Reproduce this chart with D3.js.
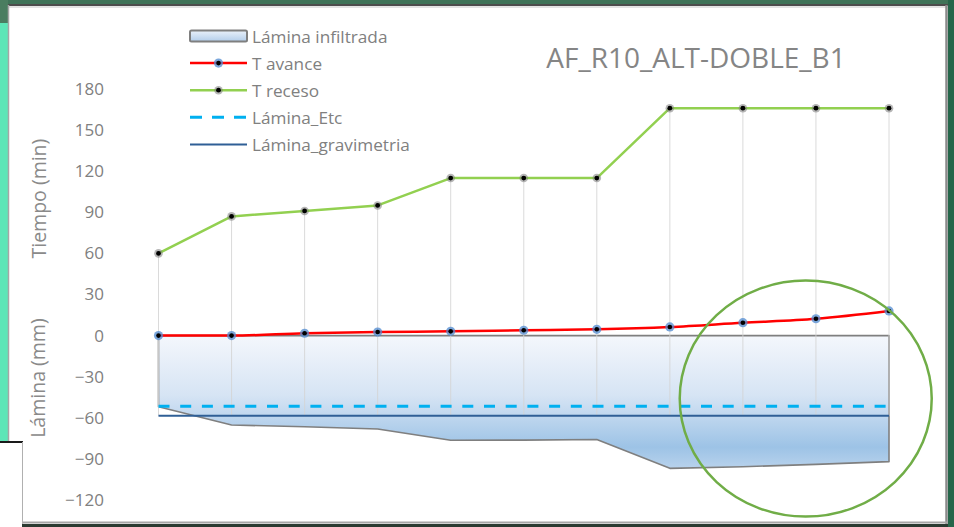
<!DOCTYPE html>
<html>
<head>
<meta charset="utf-8">
<script src="https://cdn.jsdelivr.net/npm/d3@7"></script>
<style>
  html, body { margin: 0; padding: 0; background: #ffffff; }
  svg { display: block; }
  text { font-family: "Open Sans", "Noto Sans", sans-serif; }
</style>
</head>
<body>
<svg id="chart" width="954" height="527"></svg>
<script>
// Estaciones a lo largo del surco (m)
const estaciones = [0, 10, 20, 30, 40, 50, 60, 70, 80, 90, 100];
// Tiempo de avance (min)
const tAvance = [0, 0, 1.7, 2.6, 3.1, 3.9, 4.6, 6.3, 9.4, 12.3, 18];
// Tiempo de receso (min)
const tReceso = [60, 87, 91, 95, 115, 115, 115, 166, 166, 166, 166];
// Lámina infiltrada (mm, hacia abajo)
const laminaInfiltrada = [-52, -65.3, -66.5, -68.2, -76.4, -76.3, -75.8, -96.9, -95.7, -94, -92];
// Láminas de referencia (mm)
const laminaEtc = -51.5;
const laminaGravimetria = -58.5;
// Marcas del eje vertical
const yTicks = [-120, -90, -60, -30, 0, 30, 60, 90, 120, 150, 180];
// Leyenda
const legendLabels = ["Lámina infiltrada", "T avance", "T receso", "Lámina_Etc", "Lámina_gravimetria"];
const chartTitle = "AF_R10_ALT-DOBLE_B1";

const svg = d3.select("#chart");

// ---- window frame around the chart ----
svg.append("rect").attr("x", 0).attr("y", 0).attr("width", 954).attr("height", 527).attr("fill", "#ffffff");
svg.append("rect").attr("x", 0).attr("y", 0).attr("width", 954).attr("height", 4).attr("fill", "#3f7358");
svg.append("rect").attr("x", 0).attr("y", 0).attr("width", 8).attr("height", 23).attr("fill", "#4a7d60");
svg.append("rect").attr("x", 0).attr("y", 23).attr("width", 8).attr("height", 419).attr("fill", "#5de6b7");
svg.append("rect").attr("x", 948).attr("y", 0).attr("width", 6).attr("height", 527).attr("fill", "#26664a");
svg.append("rect").attr("x", 22).attr("y", 524).attr("width", 926).attr("height", 3).attr("fill", "#2a3a31");
// chart border
svg.append("line").attr("x1", 8).attr("x2", 948).attr("y1", 5).attr("y2", 5).attr("stroke", "#4d4d4d").attr("stroke-width", 2);
svg.append("line").attr("x1", 8).attr("x2", 946).attr("y1", 7).attr("y2", 7).attr("stroke", "#c8c8c8").attr("stroke-width", 1);
svg.append("line").attr("x1", 8.5).attr("x2", 8.5).attr("y1", 5).attr("y2", 442).attr("stroke", "#a6a6a6").attr("stroke-width", 1.5);
svg.append("line").attr("x1", 946.5).attr("x2", 946.5).attr("y1", 5).attr("y2", 524).attr("stroke", "#8a8a8a").attr("stroke-width", 2.5);
svg.append("line").attr("x1", 22).attr("x2", 947).attr("y1", 522.5).attr("y2", 522.5).attr("stroke", "#a6a6a6").attr("stroke-width", 2);
svg.append("line").attr("x1", 0).attr("x2", 23).attr("y1", 442).attr("y2", 442).attr("stroke", "#1a1a1a").attr("stroke-width", 2);
svg.append("line").attr("x1", 22.5).attr("x2", 22.5).attr("y1", 442).attr("y2", 524).attr("stroke", "#b0b0b0").attr("stroke-width", 1);

// ---- scales ----
const x = d3.scalePoint().domain(estaciones).range([158.5, 889]);
const y = d3.scaleLinear().domain([-120, 180]).range([500, 89]);

// ---- gradient for the infiltrated depth area ----
const defs = svg.append("defs");
const grad = defs.append("linearGradient").attr("id", "gradLamina")
  .attr("x1", 0).attr("x2", 0).attr("y1", 0).attr("y2", 1);
grad.append("stop").attr("offset", "0%").attr("stop-color", "#f4f7fc");
grad.append("stop").attr("offset", "45%").attr("stop-color", "#d6e4f4");
grad.append("stop").attr("offset", "84%").attr("stop-color", "#9dc3e6");
grad.append("stop").attr("offset", "100%").attr("stop-color", "#b8d2ec");

const gradLeg = defs.append("linearGradient").attr("id", "gradLeg")
  .attr("x1", 0).attr("x2", 0).attr("y1", 0).attr("y2", 1);
gradLeg.append("stop").attr("offset", "0%").attr("stop-color", "#eaf1fa");
gradLeg.append("stop").attr("offset", "100%").attr("stop-color", "#b2cdea");

// ---- area: Lámina infiltrada ----
const areaGen = d3.area()
  .x((d, i) => x(estaciones[i]))
  .y0(y(0))
  .y1(d => y(d));
svg.append("path")
  .datum(laminaInfiltrada)
  .attr("d", areaGen)
  .attr("fill", "url(#gradLamina)")
  .attr("stroke", "#7f7f7f")
  .attr("stroke-width", 1.6)
  .attr("stroke-linejoin", "round");

// ---- drop lines from T receso down to the lowest reference line ----
svg.append("g").selectAll("line")
  .data(estaciones)
  .join("line")
  .attr("x1", d => x(d)).attr("x2", d => x(d))
  .attr("y1", (d, i) => y(tReceso[i]))
  .attr("y2", y(laminaGravimetria))
  .attr("stroke", "#d4d4d4")
  .attr("stroke-opacity", 0.85)
  .attr("stroke-width", 1);

// ---- reference depths ----
svg.append("line")
  .attr("x1", x(estaciones[0])).attr("x2", x(estaciones[estaciones.length - 1]))
  .attr("y1", y(laminaGravimetria)).attr("y2", y(laminaGravimetria))
  .attr("stroke", "#2f5f96").attr("stroke-width", 2);
svg.append("line")
  .attr("x1", x(estaciones[0])).attr("x2", x(estaciones[estaciones.length - 1]))
  .attr("y1", y(laminaEtc)).attr("y2", y(laminaEtc))
  .attr("stroke", "#00b0f0").attr("stroke-width", 3)
  .attr("stroke-dasharray", "11,10.7");

// ---- y axis ----
const yAxis = d3.axisLeft(y).tickValues(yTicks).tickSize(0).tickPadding(0);
const gy = svg.append("g").attr("transform", "translate(104,0)").call(yAxis);
gy.select(".domain").remove();
gy.selectAll("text")
  .attr("fill", "#808080")
  .style("font-size", "17px")
  .style("font-family", "'Open Sans', sans-serif");

// ---- lines ----
const lineGen = d3.line().x((d, i) => x(estaciones[i])).y(d => y(d));
svg.append("path")
  .datum(tReceso)
  .attr("d", lineGen)
  .attr("fill", "none")
  .attr("stroke", "#92d050")
  .attr("stroke-width", 2.5)
  .attr("stroke-linejoin", "round");

const smoothGen = d3.line().x((d, i) => x(estaciones[i])).y(d => y(d)).curve(d3.curveMonotoneX);
svg.append("path")
  .datum(tAvance)
  .attr("d", smoothGen)
  .attr("fill", "none")
  .attr("stroke", "#ff0000")
  .attr("stroke-width", 2.5);

// ---- markers ----
function avanceMarker(g, cx, cy) {
  g.append("circle").attr("cx", cx).attr("cy", cy).attr("r", 4.6).attr("fill", "#4f8ad0").attr("fill-opacity", 0.75);
  g.append("circle").attr("cx", cx).attr("cy", cy).attr("r", 2.3).attr("fill", "#000000");
}
function recesoMarker(g, cx, cy) {
  g.append("circle").attr("cx", cx).attr("cy", cy).attr("r", 4.3).attr("fill", "#7a7a7a").attr("fill-opacity", 0.55);
  g.append("circle").attr("cx", cx).attr("cy", cy).attr("r", 2.4).attr("fill", "#000000");
}
const gMarks = svg.append("g");
tReceso.forEach((v, i) => recesoMarker(gMarks, x(estaciones[i]), y(v)));
tAvance.forEach((v, i) => avanceMarker(gMarks, x(estaciones[i]), y(v)));

// ---- axis titles ----
svg.append("text")
  .attr("transform", `translate(38,${y(100)}) rotate(-90)`)
  .attr("text-anchor", "middle").attr("dominant-baseline", "central")
  .attr("fill", "#8a8a8a").style("font-size", "19.5px")
  .text("Tiempo (min)");
svg.append("text")
  .attr("transform", `translate(37,${y(-31)}) rotate(-90)`)
  .attr("text-anchor", "middle").attr("dominant-baseline", "central")
  .attr("fill", "#8a8a8a").style("font-size", "19.5px")
  .text("Lámina (mm)");

// ---- title ----
svg.append("text")
  .attr("x", 696).attr("y", 57)
  .attr("text-anchor", "middle").attr("dominant-baseline", "central")
  .attr("fill", "#858585").style("font-size", "28px")
  .text(chartTitle);

// ---- legend ----
const leg = svg.append("g");
const legRow = i => 36 + i * 27.1;
const lx0 = 190, lx1 = 247, lxm = (lx0 + lx1) / 2;
leg.append("rect").attr("x", lx0).attr("y", legRow(0) - 5.5).attr("width", lx1 - lx0).attr("height", 11)
  .attr("rx", 1.5).attr("fill", "url(#gradLeg)").attr("stroke", "#7f7f7f").attr("stroke-width", 2);
leg.append("line").attr("x1", lx0).attr("x2", lx1).attr("y1", legRow(1)).attr("y2", legRow(1))
  .attr("stroke", "#ff0000").attr("stroke-width", 2.5);
avanceMarker(leg, lxm, legRow(1));
leg.append("line").attr("x1", lx0).attr("x2", lx1).attr("y1", legRow(2)).attr("y2", legRow(2))
  .attr("stroke", "#92d050").attr("stroke-width", 2.5);
recesoMarker(leg, lxm, legRow(2));
leg.append("line").attr("x1", lx0).attr("x2", lx1).attr("y1", legRow(3)).attr("y2", legRow(3))
  .attr("stroke", "#00b0f0").attr("stroke-width", 3).attr("stroke-dasharray", "12,10");
leg.append("line").attr("x1", lx0).attr("x2", lx1).attr("y1", legRow(4)).attr("y2", legRow(4))
  .attr("stroke", "#2f5f96").attr("stroke-width", 2);
leg.selectAll("text.lbl")
  .data(legendLabels)
  .join("text")
  .attr("class", "lbl")
  .attr("x", 252).attr("y", (d, i) => legRow(i))
  .attr("dominant-baseline", "central")
  .attr("fill", "#808080").style("font-size", "17.2px")
  .text(d => d);

// ---- highlight ellipse around the last stations ----
const xIdx = d3.scaleLinear().domain([0, estaciones.length - 1]).range(x.range());
svg.append("ellipse")
  .attr("cx", xIdx(8.86)).attr("cy", y(-46))
  .attr("rx", 126).attr("ry", 118)
  .attr("fill", "none")
  .attr("stroke", "#70ad47")
  .attr("stroke-width", 2.5);
</script>
</body>
</html>
